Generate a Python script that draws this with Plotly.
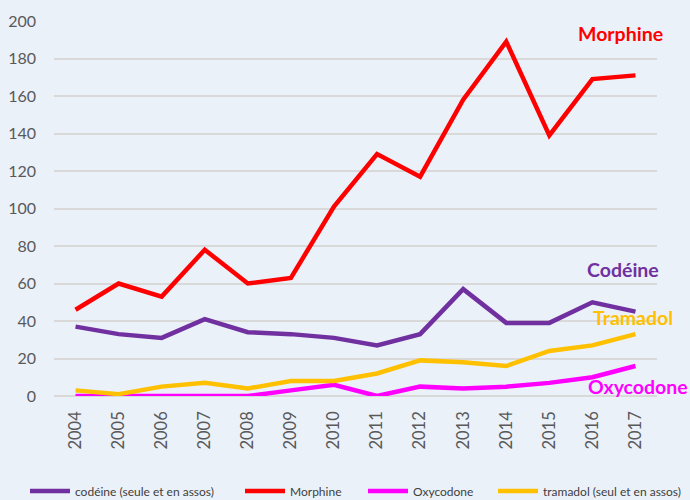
import plotly.graph_objects as go

years = [str(y) for y in range(2004, 2018)]
codeine = [37, 33, 31, 41, 34, 33, 31, 27, 33, 57, 39, 39, 50, 45]
morphine = [46, 60, 53, 78, 60, 63, 101, 129, 117, 158, 189, 139, 169, 171]
oxycodone = [0, 0, 0, 0, 0, 3, 6, 0, 5, 4, 5, 7, 10, 16]
tramadol = [3, 1, 5, 7, 4, 8, 8, 12, 19, 18, 16, 24, 27, 33]

series = [
    ("codéine (seule et en assos)", codeine, "#7030A0", "legend2", 25),
    ("Morphine", morphine, "#FF0000", "legend3", 240),
    ("Oxycodone", oxycodone, "#FF00FF", "legend4", 363),
    ("tramadol (seul et en assos)", tramadol, "#FFC000", "legend5", 493),
]

fig = go.Figure()
legends = {}
for name, vals, col, lg, lx in series:
    fig.add_trace(go.Scatter(x=years, y=vals, name=name, mode="lines", legend=lg,
                             showlegend=True, line=dict(color=col, width=4.5)))
    legends[lg] = dict(orientation="h", xref="container", yref="container",
                       x=lx / 690, xanchor="left", y=(500 - 491) / 500, yanchor="middle",
                       font=dict(size=12, color="#404040"), bgcolor="rgba(0,0,0,0)",
                       itemwidth=40)

annots = [
    ("Morphine", 620, 33, "#FF0000"),
    ("Codéine", 623, 269, "#7030A0"),
    ("Tramadol", 633, 317, "#FFC000"),
    ("Oxycodone", 638, 386, "#FF00FF"),
]
for txt, px, py, col in annots:
    fig.add_annotation(text="<b>%s</b>" % txt, xref="paper", yref="paper",
                       x=(px - 54) / 603, y=(396 - py) / 375, showarrow=False,
                       font=dict(color=col, size=19.5, family="Lato"),
                       xanchor="center", yanchor="middle")

fig.update_layout(
    width=690, height=500,
    margin=dict(l=54, r=33, t=21, b=104, autoexpand=False),
    paper_bgcolor="#EBF1F9", plot_bgcolor="#EBF1F9",
    font=dict(family="Lato", color="#595959"),
    showlegend=True,
    xaxis=dict(type="category", range=[-0.5, 13.5], tickangle=-90,
               showgrid=False, showline=False, ticks="", automargin=False,
               ticklabelstandoff=11,
               tickfont=dict(size=16.5, color="#595959")),
    yaxis=dict(range=[0, 200], dtick=20, showgrid=True, gridcolor="#D9D9D9",
               gridwidth=1.5, zeroline=True, zerolinecolor="#D9D9D9", zerolinewidth=1.5,
               automargin=False, ticklabelstandoff=17,
               tickfont=dict(size=16, color="#595959")),
    **legends,
)

fig.write_html("out.html", config={"displayModeBar": False},
               post_script="document.body.style.margin='0';document.body.style.overflow='hidden';")
